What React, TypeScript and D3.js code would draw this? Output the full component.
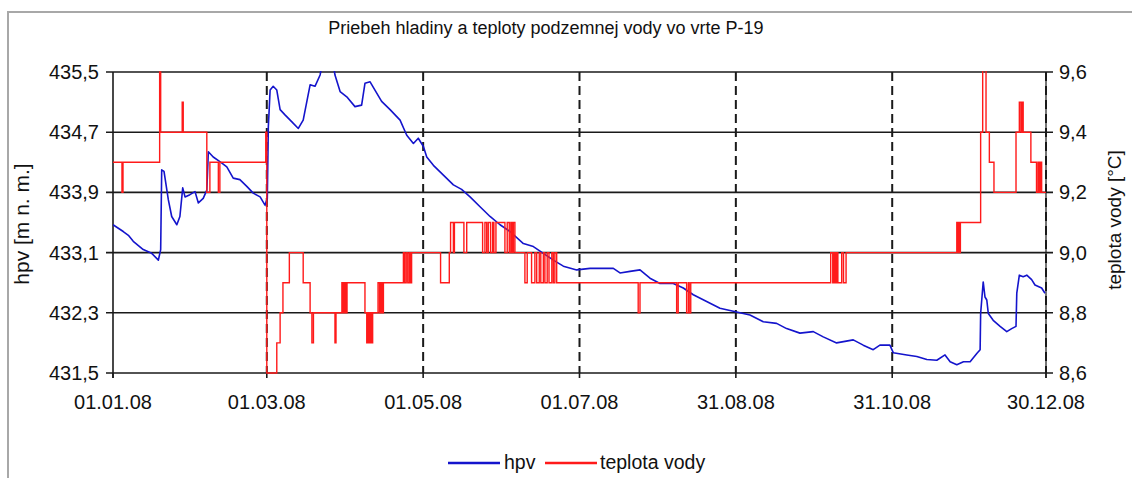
import React from "react";
import * as d3 from "d3";

const TITLE = "Priebeh hladiny a teploty podzemnej vody vo vrte P-19";
const LEFT_TITLE = "hpv [m n. m.]";
const RIGHT_TITLE = "teplota vody [°C]";
const SERIES_NAMES = ["hpv", "teplota vody"];
const X_TICKS = ["2008-01-01", "2008-03-01", "2008-05-01", "2008-07-01", "2008-08-31", "2008-10-31", "2008-12-30"];
const LEFT_TICKS = [431.5, 432.3, 433.1, 433.9, 434.7, 435.5];
const RIGHT_TICKS = [8.6, 8.8, 9.0, 9.2, 9.4, 9.6];

// [day of year (0 = 01.01.08), hpv m n. m.]
const hpv: [number, number][] = [
  [0, 433.47], [4.0, 433.38], [6.0, 433.33], [7.9, 433.25], [11.8, 433.14], [15.1, 433.09], [17.7, 433.0], [18.6, 433.14], [19.0, 434.2], [19.9, 434.18],
  [21.6, 433.8], [22.9, 433.58], [24.9, 433.47], [26.1, 433.58], [27.2, 433.96], [28.1, 433.84], [30.0, 433.87], [32.0, 433.91], [33.3, 433.76], [35.2, 433.82],
  [36.6, 433.93], [37.2, 434.44], [39.1, 434.37], [41.7, 434.31], [44.4, 434.24], [46.9, 434.09], [49.5, 434.07], [52.2, 433.98], [54.7, 433.89], [57.4, 433.84],
  [59.3, 433.73], [60.2, 433.82], [60.6, 434.77], [61.3, 435.26], [62.5, 435.31], [63.9, 435.26], [65.2, 435.0], [67.1, 434.93], [69.7, 434.84], [72.3, 434.75],
  [74.2, 434.86], [76.9, 435.33], [78.8, 435.31], [80.8, 435.46], [81.9, 435.66], [83.9, 435.73], [85.8, 435.63], [86.6, 435.46], [88.6, 435.24], [91.2, 435.17],
  [94.4, 435.04], [97.0, 435.06], [98.3, 435.35], [100.3, 435.37], [102.2, 435.26], [104.8, 435.11], [108.1, 435.0], [112.0, 434.86], [114.6, 434.66], [117.2, 434.55],
  [119.1, 434.62], [121.1, 434.51], [122.4, 434.37], [125.0, 434.26], [128.9, 434.13], [132.8, 434.0], [136.0, 433.94], [139.3, 433.84], [143.2, 433.71], [147.1, 433.58],
  [151.0, 433.47], [154.9, 433.38], [160.1, 433.22], [164.0, 433.18], [167.9, 433.09], [171.8, 433.0], [175.7, 432.92], [180.9, 432.87], [186.1, 432.89], [190.0, 432.89],
  [195.2, 432.89], [197.8, 432.83], [201.7, 432.85], [205.6, 432.87], [209.5, 432.76], [213.4, 432.69], [218.6, 432.69], [222.5, 432.63], [226.4, 432.54], [231.6, 432.45],
  [236.8, 432.36], [242.0, 432.32], [248.5, 432.27], [253.7, 432.18], [258.9, 432.16], [262.8, 432.09], [268.0, 432.03], [273.2, 432.05], [277.1, 431.98], [282.3, 431.9],
  [288.8, 431.94], [292.7, 431.87], [295.3, 431.83], [296.6, 431.81], [299.2, 431.87], [303.1, 431.87], [304.4, 431.77], [309.7, 431.74], [313.6, 431.72], [317.5, 431.68],
  [321.4, 431.67], [324.6, 431.74], [326.6, 431.65], [329.2, 431.61], [331.8, 431.65], [334.4, 431.65], [337.0, 431.76], [338.3, 431.81], [338.5, 432.29], [339.5, 432.71],
  [340.2, 432.51], [340.9, 432.47], [341.5, 432.29], [343.4, 432.2], [346.1, 432.12], [348.7, 432.05], [350.6, 432.09], [352.3, 432.12], [352.6, 432.56], [353.6, 432.8],
  [355.1, 432.78], [356.5, 432.8], [358.4, 432.74], [359.7, 432.67], [362.3, 432.63], [363.6, 432.56],
];

// [day of year, teplota vody °C] – value holds until the next entry
const teplota: [number, number][] = [
  [0, 9.3], [3.5, 9.2], [3.9, 9.3], [18.2, 9.6], [18.6, 9.4], [27.0, 9.5], [27.4, 9.4], [36.6, 9.2], [37.8, 9.3], [41.1, 9.2], [41.7, 9.3],
  [59.6, 9.4], [60.0, 8.6], [63.9, 8.7], [65.2, 8.8], [66.3, 8.9], [68.8, 9.0], [74.2, 8.9], [76.9, 8.8], [77.6, 8.7], [78.2, 8.8],
  [86.6, 8.7], [87.0, 8.8], [89.3, 8.9], [89.8, 8.8], [90.3, 8.9], [90.8, 8.8], [91.3, 8.9], [98.3, 8.8],
  [99.0, 8.7], [99.5, 8.8], [100.0, 8.7], [100.5, 8.8], [101.0, 8.7], [101.3, 8.8],
  [103.4, 8.9], [104.0, 8.8], [104.5, 8.9], [105.0, 8.8], [105.5, 8.9],
  [113.3, 9.0], [113.8, 8.9], [114.4, 9.0], [115.0, 8.9], [115.6, 9.0], [116.0, 8.9], [116.5, 9.0],
  [127.8, 8.9], [131.2, 9.0], [131.7, 9.1], [132.8, 9.0], [133.2, 9.1], [136.9, 9.0], [138.0, 9.1],
  [144.2, 9.0], [145.1, 9.1], [145.8, 9.0], [146.4, 9.1], [147.3, 9.0], [148.1, 9.1], [148.6, 9.0], [149.4, 9.1],
  [152.9, 9.0], [153.8, 9.1], [154.6, 9.0], [155.2, 9.1], [155.7, 9.0], [156.2, 9.1], [156.8, 9.0],
  [160.7, 8.9], [161.6, 9.0], [163.3, 8.9], [164.6, 9.0], [165.3, 8.9], [166.3, 9.0], [166.9, 8.9], [167.9, 9.0], [168.5, 8.9],
  [169.4, 9.0], [170.1, 8.9], [171.2, 9.0], [171.8, 8.9], [172.4, 9.0], [173.1, 8.9],
  [204.9, 8.8], [205.6, 8.9], [219.9, 8.8], [220.5, 8.9], [223.8, 8.8], [224.5, 8.9], [224.8, 8.8], [225.4, 8.9],
  [280.0, 9.0], [280.8, 8.9], [281.3, 9.0], [281.8, 8.9], [282.3, 9.0], [282.8, 8.9], [284.3, 9.0], [285.0, 8.9], [286.0, 9.0],
  [329.2, 9.1], [329.5, 9.0], [329.9, 9.1], [330.3, 9.0], [330.6, 9.1],
  [338.5, 9.4], [339.3, 9.7], [340.6, 9.4], [341.9, 9.3], [343.7, 9.2],
  [352.3, 9.4], [353.6, 9.5], [354.2, 9.4], [354.6, 9.5], [355.1, 9.4], [358.1, 9.3],
  [360.3, 9.2], [360.9, 9.3], [361.4, 9.2], [361.8, 9.3], [362.3, 9.2], [364, 9.2],
];

const W = 1132;
const H = 478;
const PL = 113;
const PR = 1046;
const PT = 72;
const PB = 373;
const FONT = "'Liberation Sans', Arial, Helvetica, sans-serif";
const BLUE = "#1414cc";
const RED = "#ff1a1a";

export default function App() {
  const t0 = Date.UTC(2008, 0, 1);
  const toDate = (d: number) => new Date(t0 + d * 864e5);
  const x = d3
    .scaleUtc()
    .domain([new Date(Date.UTC(2008, 0, 1)), new Date(Date.UTC(2008, 11, 30))])
    .range([PL, PR]);
  const yL = d3.scaleLinear().domain([431.5, 435.5]).range([PB, PT]);
  const yR = d3.scaleLinear().domain([8.6, 9.6]).range([PB, PT]);
  const loc = d3.formatLocale({ decimal: ",", thousands: " ", grouping: [3], currency: ["", ""] });
  const f1 = loc.format(".1f");
  const xf = d3.utcFormat("%d.%m.%y");
  const xTicks = X_TICKS.map((s) => new Date(s + "T00:00:00Z"));

  const hpvLine = d3
    .line<[number, number]>()
    .x((d) => x(toDate(d[0])))
    .y((d) => yL(d[1]))
    .curve(d3.curveLinear);
  const tLine = d3
    .line<[number, number]>()
    .x((d) => x(toDate(d[0])))
    .y((d) => yR(d[1]))
    .curve(d3.curveStepAfter);

  return (
    <svg
      width={W}
      height={H}
      style={{ position: "absolute", left: 0, top: 0, background: "#fff" }}
      fontFamily={FONT}
    >
      <defs>
        <clipPath id="plot">
          <rect x={PL} y={PT - 1} width={PR - PL} height={PB - PT + 2} />
        </clipPath>
      </defs>
      <rect x={0} y={0} width={W} height={H} fill="#fff" />
      <rect x={8} y={12} width={W + 20} height={H + 20} fill="none" stroke="#a8a8a8" strokeWidth={2} />

      <text x={546} y={34} textAnchor="middle" fontSize={18} fill="#111">
        {TITLE}
      </text>

      {/* horizontal gridlines */}
      {LEFT_TICKS.map((v) => (
        <line key={"g" + v} x1={PL - 7} x2={PR + 7} y1={yL(v)} y2={yL(v)} stroke="#1a1a1a" strokeWidth={1.6} />
      ))}
      {/* vertical dashed lines */}
      {xTicks.slice(1).map((d, i) => (
        <line
          key={"v" + i}
          x1={x(d)}
          x2={x(d)}
          y1={PT}
          y2={PB}
          stroke="#1a1a1a"
          strokeWidth={2}
          strokeDasharray="9,5"
        />
      ))}
      {/* axes */}
      <line x1={PL} x2={PL} y1={PT} y2={PB + 5} stroke="#1a1a1a" strokeWidth={1.6} />
      <line x1={PR} x2={PR} y1={PT} y2={PB + 5} stroke="#1a1a1a" strokeWidth={1.2} />
      {xTicks.map((d, i) => (
        <line key={"xt" + i} x1={x(d)} x2={x(d)} y1={PB} y2={PB + 5} stroke="#1a1a1a" strokeWidth={1.6} />
      ))}

      <g clipPath="url(#plot)">
        <path d={hpvLine(hpv) || ""} fill="none" stroke={BLUE} strokeWidth={1.6} strokeLinejoin="round" />
        <path d={tLine(teplota) || ""} fill="none" stroke={RED} strokeWidth={1.4} />
      </g>

      {/* left tick labels */}
      {LEFT_TICKS.map((v) => (
        <text key={"l" + v} x={99} y={yL(v)} dy="0.35em" textAnchor="end" fontSize={20} fill="#111">
          {f1(v)}
        </text>
      ))}
      {/* right tick labels */}
      {RIGHT_TICKS.map((v) => (
        <text key={"r" + v} x={1059} y={yR(v)} dy="0.35em" textAnchor="start" fontSize={20} fill="#111">
          {f1(v)}
        </text>
      ))}
      {/* x tick labels */}
      {xTicks.map((d, i) => (
        <text key={"xl" + i} x={x(d)} y={409} textAnchor="middle" fontSize={20} fill="#111">
          {xf(d)}
        </text>
      ))}

      <text transform={`translate(29,224) rotate(-90)`} textAnchor="middle" fontSize={21} fill="#111">
        {LEFT_TITLE}
      </text>
      <text transform={`translate(1121,220) rotate(-90)`} textAnchor="middle" fontSize={19} fill="#111">
        {RIGHT_TITLE}
      </text>

      {/* legend */}
      <line x1={448} x2={500} y1={463} y2={463} stroke={BLUE} strokeWidth={2.6} />
      <text x={504} y={469} fontSize={19.5} fill="#111">
        {SERIES_NAMES[0]}
      </text>
      <line x1={545} x2={597} y1={463} y2={463} stroke={RED} strokeWidth={2.6} />
      <text x={600} y={469} fontSize={19.5} fill="#111">
        {SERIES_NAMES[1]}
      </text>
    </svg>
  );
}
